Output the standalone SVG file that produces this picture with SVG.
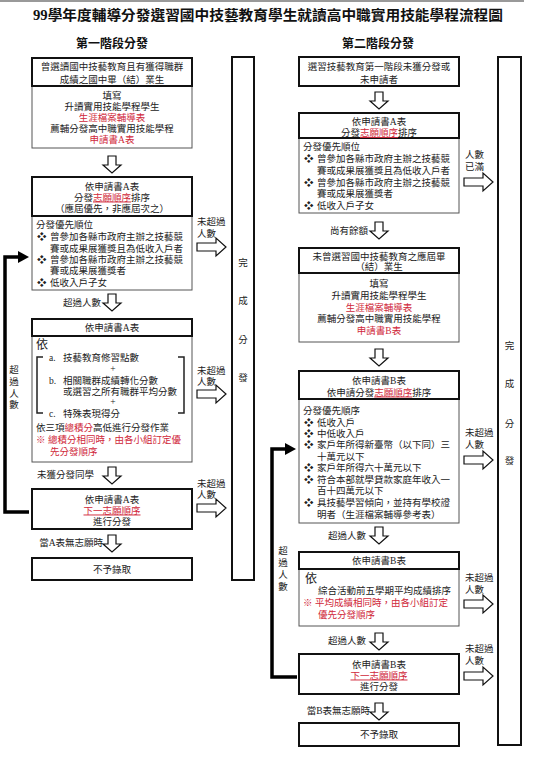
<svg xmlns="http://www.w3.org/2000/svg" width="537" height="768" viewBox="0 0 537 768">
<defs>
<style>
text{font-family:"Liberation Serif","Noto Sans CJK TC",serif;font-size:9.5px;fill:#222}
.m{text-anchor:middle}
.e{text-anchor:end}
.r{fill:#d0283a}
.u{fill:#d0283a;text-decoration:underline}
.h{font-size:12px;font-weight:bold;fill:#111}
.big{font-size:12px}
.thk{fill:#fff;stroke:#111;stroke-width:2}
.thn{fill:#fff;stroke:#555;stroke-width:1}
.ar{fill:#fff;stroke:#111;stroke-width:1.2}
.loop{fill:none;stroke:#000;stroke-width:3.5}
</style>
<path id="dn" d="M-4,0H4V9H9L0,17L-9,9H-4Z"/>
<path id="rt" d="M0,-4H19V-9L29,0L19,9V4H0Z"/>
</defs>
<rect width="537" height="768" fill="#fff"/>
<line x1="0" y1="1" x2="524" y2="1" stroke="#999" stroke-width="2"/>
<text x="268" y="20" class="m" style="font-size:14px;font-weight:bold;fill:#111" textLength="470" lengthAdjust="spacingAndGlyphs">99學年度輔導分發選習國中技藝教育學生就讀高中職實用技能學程流程圖</text>
<text x="112" y="48" class="m h">第一階段分發</text>
<text x="378" y="48" class="m h">第二階段分發</text>

<g id="connectors">
<use href="#dn" x="112" y="156" class="ar"/>
<use href="#dn" x="112" y="294" class="ar"/>
<use href="#dn" x="112" y="467" class="ar"/>
<use href="#dn" x="112" y="535" class="ar"/>
<use href="#rt" x="197" y="247" class="ar"/>
<use href="#rt" x="197" y="394" class="ar"/>
<use href="#rt" x="197" y="508" class="ar"/>
<path class="loop" d="M29,512H5V257H20"/>
<polygon points="18,251 29,257 18,263" fill="#000"/>
<use href="#dn" x="379" y="92" class="ar"/>
<use href="#dn" x="379" y="222" class="ar"/>
<use href="#dn" x="379" y="349" class="ar"/>
<use href="#dn" x="379" y="527" class="ar"/>
<use href="#dn" x="379" y="633" class="ar"/>
<use href="#dn" x="379" y="703" class="ar"/>
<use href="#rt" x="464" y="182" class="ar"/>
<use href="#rt" x="464" y="460" class="ar"/>
<use href="#rt" x="464" y="604" class="ar"/>
<use href="#rt" x="464" y="676" class="ar"/>
<path class="loop" d="M297,677H272V449H287"/>
<polygon points="285,443 296,449 285,455" fill="#000"/>
<text x="197" y="225">未超過</text><text x="197" y="237">人數</text>
<text x="101" y="306" class="e">超過人數</text>
<text x="197" y="374">未超過</text><text x="197" y="385">人數</text>
<text x="14" y="373" class="m">超</text><text x="14" y="385" class="m">過</text><text x="14" y="397" class="m">人</text><text x="14" y="408" class="m">數</text>
<text x="37" y="478">未獲分發同學</text>
<text x="197" y="487">未超過</text><text x="197" y="498">人數</text>
<text x="103" y="546" class="e">當A表無志願時</text>
<text x="465" y="158">人數</text><text x="465" y="170">已滿</text>
<text x="368" y="234" class="e">尚有餘額</text>
<text x="465" y="436">未超過</text><text x="465" y="448">人數</text>
<text x="366" y="539" class="e">超過人數</text>
<text x="465" y="581">未超過</text><text x="465" y="593">人數</text>
<text x="366" y="644" class="e">超過人數</text>
<text x="465" y="652">未超過</text><text x="465" y="664">人數</text>
<text x="370" y="714" class="e">當B表無志願時</text>
<text x="283" y="554" class="m">超</text><text x="283" y="566" class="m">過</text><text x="283" y="578" class="m">人</text><text x="283" y="590" class="m">數</text>
</g>

<g id="a1">
<rect class="thn" x="32" y="86" width="160" height="62"/>
<rect class="thk" x="32" y="58" width="160" height="28"/>
<text x="112" y="69.5" class="m">曾選讀國中技藝教育且有獲得職群</text>
<text x="112" y="82.5" class="m">成績之國中畢（結）業生</text>
<text x="112" y="98.5" class="m">填寫</text>
<text x="112" y="109.5" class="m">升讀實用技能學程學生</text>
<text x="112" y="120.5" class="m r">生涯檔案輔導表</text>
<text x="112" y="131.5" class="m">薦輔分發高中職實用技能學程</text>
<text x="112" y="143" class="m r">申請書A表</text>
</g>
<g id="a2">
<rect class="thn" x="32" y="216" width="160" height="74"/>
<rect class="thk" x="32" y="177" width="160" height="39"/>
<text x="112" y="189.5" class="m">依申請書A表</text>
<text x="112" y="200.5" class="m">分發<tspan class="u">志願順序</tspan>排序</text>
<text x="112" y="211.5" class="m">（應屆優先，非應屆次之）</text>
<text x="36" y="227.5">分發優先順位</text>
<text x="37" y="239.5">❖</text><text x="50" y="239.5">曾參加各縣市政府主辦之技藝競</text>
<text x="50" y="251.5">賽或成果展獲獎且為低收入戶者</text>
<text x="37" y="262.5">❖</text><text x="50" y="262.5">曾參加各縣市政府主辦之技藝競</text>
<text x="50" y="273.5">賽或成果展獲獎者</text>
<text x="37" y="285.5">❖</text><text x="50" y="285.5">低收入戶子女</text>
</g>
<g id="a3">
<rect class="thn" x="32" y="336" width="160" height="126"/>
<rect class="thk" x="32" y="319" width="160" height="17"/>
<text x="112" y="331" class="m">依申請書A表</text>
<text x="36" y="349" class="big">依</text>
<path d="M43,357H37V413H43M178,357H184V413H178" fill="none" stroke="#222" stroke-width="1.5"/>
<text x="49" y="361">a.</text><text x="63" y="361">技藝教育修習點數</text>
<text x="113" y="372" class="m">+</text>
<text x="49" y="384">b.</text><text x="63" y="384">相關職群成績轉化分數</text>
<text x="63" y="395">或選習之所有職群平均分數</text>
<text x="113" y="405" class="m">+</text>
<text x="49" y="417">c.</text><text x="63" y="417">特殊表現得分</text>
<text x="36" y="431">依三項<tspan class="r">總積分</tspan>高低進行分發作業</text>
<text x="36" y="443" class="r">※ 總積分相同時，由各小組訂定優</text>
<text x="50" y="455" class="r">先分發順序</text>
</g>
<g id="a4">
<rect class="thk" x="32" y="489" width="160" height="40"/>
<text x="112" y="502.5" class="m">依申請書A表</text>
<text x="112" y="513.5" class="m u">下一志願順序</text>
<text x="112" y="525" class="m">進行分發</text>
</g>
<g id="a5">
<rect class="thk" x="32" y="558" width="160" height="22"/>
<text x="112" y="573" class="m">不予錄取</text>
</g>
<g id="a6">
<rect class="thk" x="232" y="57" width="22" height="523"/>
<text x="243" y="266" class="m">完</text>
<text x="243" y="304" class="m">成</text>
<text x="243" y="343" class="m">分</text>
<text x="243" y="381" class="m">發</text>
</g>

<g id="b1">
<rect class="thk" x="299" y="57" width="160" height="29"/>
<text x="379" y="69.5" class="m">選習技藝教育第一階段未獲分發或</text>
<text x="379" y="82.5" class="m">未申請者</text>
</g>
<g id="b2">
<rect class="thn" x="299" y="138" width="160" height="75"/>
<rect class="thk" x="299" y="113" width="160" height="25"/>
<text x="379" y="124.5" class="m">依申請書A表</text>
<text x="379" y="136" class="m">分發<tspan class="u">志願順序</tspan>排序</text>
<text x="303" y="149.5">分發優先順位</text>
<text x="304" y="161.5">❖</text><text x="317" y="161.5">曾參加各縣市政府主辦之技藝競</text>
<text x="317" y="173.5">賽或成果展獲獎且為低收入戶者</text>
<text x="304" y="185.5">❖</text><text x="317" y="185.5">曾參加各縣市政府主辦之技藝競</text>
<text x="317" y="196.5">賽或成果展獲獎者</text>
<text x="304" y="208.5">❖</text><text x="317" y="208.5">低收入戶子女</text>
</g>
<g id="b3">
<rect class="thn" x="299" y="273" width="160" height="69"/>
<rect class="thk" x="299" y="248" width="160" height="25"/>
<text x="379" y="259.5" class="m">未曾選習國中技藝教育之應屆畢</text>
<text x="379" y="270" class="m">（結）業生</text>
<text x="379" y="286.5" class="m">填寫</text>
<text x="379" y="299" class="m">升讀實用技能學程學生</text>
<text x="379" y="311" class="m r">生涯檔案輔導表</text>
<text x="379" y="322" class="m">薦輔分發高中職實用技能學程</text>
<text x="379" y="334" class="m r">申請書B表</text>
</g>
<g id="b4">
<rect class="thn" x="299" y="399" width="160" height="124"/>
<rect class="thk" x="299" y="371" width="160" height="28"/>
<text x="379" y="383.5" class="m">依申請書B表</text>
<text x="379" y="395.5" class="m">依申請分發<tspan class="u">志願順序</tspan>排序</text>
<text x="303" y="413.5">分發優先順序</text>
<text x="304" y="425.5">❖</text><text x="317" y="425.5">低收入戶</text>
<text x="304" y="436.5">❖</text><text x="317" y="436.5">中低收入戶</text>
<text x="304" y="447.5">❖</text><text x="317" y="447.5">家戶年所得新臺幣（以下同）三</text>
<text x="317" y="459.5">十萬元以下</text>
<text x="304" y="470.5">❖</text><text x="317" y="470.5">家戶年所得六十萬元以下</text>
<text x="304" y="482.5">❖</text><text x="317" y="482.5">符合本部就學貸款家庭年收入一</text>
<text x="317" y="493.5">百十四萬元以下</text>
<text x="304" y="505.5">❖</text><text x="317" y="505.5">具技藝學習傾向，並持有學校證</text>
<text x="317" y="517.5">明者（生涯檔案輔導參考表）</text>
</g>
<g id="b5">
<rect class="thn" x="299" y="569" width="160" height="57"/>
<rect class="thk" x="299" y="552" width="160" height="17"/>
<text x="379" y="564" class="m">依申請書B表</text>
<text x="305" y="583" class="big">依</text>
<text x="318" y="594">綜合活動前五學期平均成績排序</text>
<text x="303" y="606" class="r">※ 平均成績相同時，由各小組訂定</text>
<text x="318" y="618" class="r">優先分發順序</text>
</g>
<g id="b6">
<rect class="thk" x="299" y="654" width="160" height="40"/>
<text x="379" y="667.5" class="m">依申請書B表</text>
<text x="379" y="678.5" class="m u">下一志願順序</text>
<text x="379" y="690" class="m">進行分發</text>
</g>
<g id="b7">
<rect class="thk" x="299" y="723" width="160" height="23"/>
<text x="379" y="738" class="m">不予錄取</text>
</g>
<g id="b8">
<rect class="thk" x="498" y="57" width="23" height="688"/>
<text x="509.5" y="349" class="m">完</text>
<text x="509.5" y="387" class="m">成</text>
<text x="509.5" y="427" class="m">分</text>
<text x="509.5" y="464" class="m">發</text>
</g>
</svg>
